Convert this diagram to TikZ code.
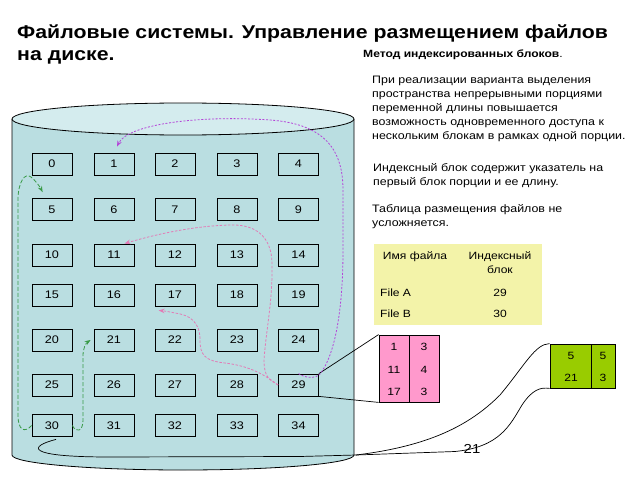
\documentclass[tikz,border=0pt]{standalone}
\usepackage{fontspec}
\setmainfont{Liberation Sans}[FakeStretch=1.15]
\usetikzlibrary{arrows.meta,calc}
\definecolor{cylbody}{HTML}{BADEE1}
\definecolor{cyltop}{HTML}{D4ECEE}
\definecolor{gdash}{HTML}{3A9A48}
\definecolor{vdash}{HTML}{B444D8}
\definecolor{pdash}{HTML}{E27BB6}
\definecolor{idxpink}{HTML}{FF99CC}
\definecolor{idxgreen}{HTML}{99CC00}
\definecolor{tabyellow}{HTML}{F3F3A9}
\begin{document}
\begin{tikzpicture}[x=1pt,y=-1pt,
  blk/.style={draw=black,line width=0.8pt,minimum width=40pt,minimum height=22pt,inner sep=0pt,font=\fontsize{11}{12}\selectfont},
  cell/.style={draw=black,line width=0.8pt,inner sep=0pt},
  num/.style={inner sep=0pt,font=\fontsize{10.5}{12}\selectfont},
  txt/.style={anchor=base west,inner sep=0pt,font=\fontsize{10.8}{12}\selectfont},
  ttl/.style={anchor=base west,inner sep=0pt,font=\fontsize{18.5}{20}\selectfont\bfseries},
  gdsh/.style={draw=gdash,line width=0.8pt,dash pattern=on 4pt off 2pt,-{Stealth[length=6pt,width=4.5pt]}},
  vdsh/.style={draw=vdash,line width=0.8pt,dash pattern=on 2pt off 1.6pt,-{Stealth[length=6pt,width=4.5pt]}},
  pdsh/.style={draw=pdash,line width=0.8pt,dash pattern=on 2.5pt off 1.6pt,-{Stealth[length=6pt,width=4.5pt]}},
  lnk/.style={draw=black,line width=0.7pt}]
\useasboundingbox[fill=white] (0,0) rectangle (638,479);

% title
\node[ttl] (t1) at (17,38) {Файловые системы. Управление размещением файлов};
\node[ttl] (t2) at (17,60.5) {на диске.};
\node[anchor=base west,inner sep=0pt,font=\fontsize{10.5}{12}\selectfont] (t3) at (363,57) {\textbf{Метод индексированных блоков}.};

% paragraphs
\node[txt] (p1) at (372,83) {При реализации варианта выделения};
\node[txt] (p2) at (372,97.2) {пространства непрерывными порциями};
\node[txt] (p3) at (372,111.4) {переменной длины повышается};
\node[txt] (p4) at (372,125.6) {возможность одновременного доступа к};
\node[txt] (p5) at (372,139.8) {нескольким блокам в рамках одной порции.};
\node[txt] (p6) at (373,171.5) {Индексный блок содержит указатель на};
\node[txt] (p7) at (373,185.7) {первый блок порции и ее длину.};
\node[txt] (p8) at (372,212.5) {Таблица размещения файлов не};
\node[txt] (p9) at (372,226.7) {усложняется.};

% table
\fill[tabyellow] (374,244) rectangle (542,325);
\node[num,anchor=base] (h1) at (415,259) {Имя файла};
\node[num,anchor=base] (h2) at (500,259) {Индексный};
\node[num,anchor=base] (h3) at (500,273) {блок};
\node[num,anchor=base west] (fa) at (380,296) {File A};
\node[num,anchor=base] (va) at (500,296) {29};
\node[num,anchor=base west] (fb) at (380,317) {File B};
\node[num,anchor=base] (vb) at (500,317) {30};

% cylinder
\path[fill=cylbody,draw=black,line width=0.8pt] (12,119) -- (12,455)
  arc[start angle=180,end angle=0,x radius=171,y radius=15] -- (354,119);
\draw[fill=cyltop,line width=0.8pt] (183,119) ellipse[x radius=171,y radius=16];

% blocks
\foreach \r/\yy in {0/164,1/209.5,2/255,3/295,4/340,5/385,6/425.5}{
  \foreach \c/\xx in {0/52,1/114,2/175,3/237,4/298.5}{
    \pgfmathtruncatemacro\k{\r*5+\c}
    \node[blk] (n\k) at (\xx,\yy) {\k};
  }
}

% index block (pink)
\node[cell,fill=idxpink,minimum width=30pt,minimum height=67pt] (pL) at (394,368.5) {};
\node[cell,fill=idxpink,minimum width=30pt,minimum height=67pt] (pR) at (424,368.5) {};
\node[num] (pa) at (394,347) {1};
\node[num] (pb) at (394,370) {11};
\node[num] (pc) at (394,392) {17};
\node[num] (pd) at (424,347) {3};
\node[num] (pe) at (424,370) {4};
\node[num] (pf) at (424,392) {3};

% index block (green)
\node[cell,fill=idxgreen,minimum width=41pt,minimum height=44pt] (gL) at (570.5,366) {};
\node[cell,fill=idxgreen,minimum width=24pt,minimum height=44pt] (gR) at (603,366) {};
\node[num] (ga) at (571,356) {5};
\node[num] (gb) at (571,378) {21};
\node[num] (gc) at (603,356) {5};
\node[num] (gd) at (603,378) {3};

% links from 29
\draw[lnk] (n29.north east) -- (pL.north west);
\draw[lnk] (n29.south east) -- (pL.south west);

% links from 30
\coordinate (split) at (356,455);
\draw[lnk] ([xshift=4pt,yshift=-2.5pt]n30.south) .. controls (30,446) and (22,457) .. (110,457)
  -- (300,456.5) -- (split);
\draw[lnk] (split) .. controls (430,446) and (470,425) .. (500,395)
  .. controls (525,365) and (535,344) .. (gL.north west);
\draw[lnk] (split) -- (455,451.5) .. controls (500,447) and (510,425) .. (522,405)
  .. controls (532,390) and (540,387) .. (gL.south west);

% slide number
\node[inner sep=0pt,font=\fontsize{13}{16}\selectfont] (sn) at (472,449) {21};

% green dashed arrows
\draw[gdsh] (n30.west) .. controls (25,433) and (18,431) .. (18,415) -- (18,200)
  .. controls (18,182) and (25,172) .. (31,177) .. controls (36,181) and (40,187) .. ([xshift=11pt,yshift=6pt]n5.north west);
\draw[gdsh] (n30.east) .. controls (76,433) and (83,432) .. (83,420) -- (83,356)
  .. controls (83,348) and (86,343) .. ([xshift=-3pt]n21.west);

% violet dashed arrow (29 -> 1)
\draw[vdsh] (n29.north) .. controls (305,378) and (315,379) .. (320,374)
  .. controls (335,355) and (343,310) .. (343,250) -- (343,190)
  .. controls (343,150) and (325,124) .. (270,120)
  .. controls (200,115) and (128,124) .. ([xshift=3pt,yshift=6pt]n1.north);

% pink dashed arrows (29 -> 11, 29 -> 17)
\draw[pdsh] (n29.west) .. controls (270,380) and (264,378) .. (264,360)
  .. controls (266,330) and (273,300) .. (272,262)
  .. controls (271,236) and (255,224) .. (230,225)
  .. controls (190,226) and (150,236) .. ([xshift=-10pt]n11.north east);
\draw[pdsh] (n29.west) .. controls (265,375) and (250,366) .. (225,363)
  .. controls (205,361) and (200,355) .. (200,340)
  .. controls (200,322) and (190,315) .. (175,313)
  .. controls (170,312) and (165,311) .. ([xshift=4pt,yshift=-4pt]n17.south west);
\end{tikzpicture}
\end{document}
